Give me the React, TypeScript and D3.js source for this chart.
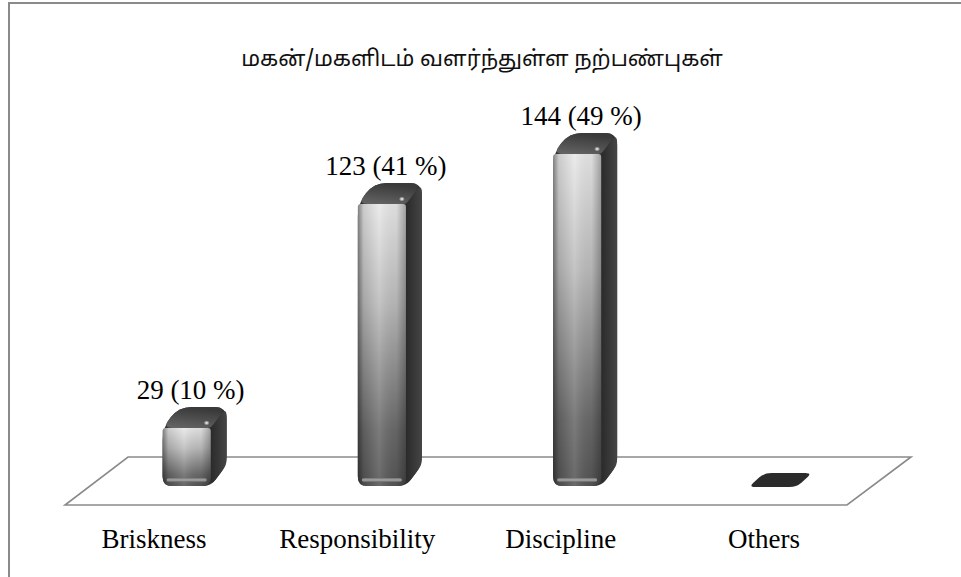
import React from "react";
import * as d3 from "d3";

const categories = ["Briskness", "Responsibility", "Discipline", "Others"];
const counts = [29, 123, 144, 0];
const percents = [10, 41, 49, 0];
const title = "மகன்/மகளிடம் வளர்ந்துள்ள நற்பண்புகள்";

const W = 961;
const H = 577;

type P = [number, number];

function roundedPolygon(pts: P[], radii: number[]): string {
  const n = pts.length;
  let d = "";
  for (let i = 0; i < n; i++) {
    const prev = pts[(i - 1 + n) % n];
    const cur = pts[i];
    const next = pts[(i + 1) % n];
    const r = radii[i];
    const v1x = prev[0] - cur[0], v1y = prev[1] - cur[1];
    const v2x = next[0] - cur[0], v2y = next[1] - cur[1];
    const l1 = Math.hypot(v1x, v1y) || 1;
    const l2 = Math.hypot(v2x, v2y) || 1;
    const r1 = Math.min(r, l1 / 2), r2 = Math.min(r, l2 / 2);
    const a: P = [cur[0] + (v1x / l1) * r1, cur[1] + (v1y / l1) * r1];
    const b: P = [cur[0] + (v2x / l2) * r2, cur[1] + (v2y / l2) * r2];
    d += (i === 0 ? "M" : "L") + a[0] + "," + a[1];
    d += "Q" + cur[0] + "," + cur[1] + " " + b[0] + "," + b[1];
  }
  return d + "Z";
}

export default function App() {
  const xScale = d3
    .scaleBand<string>()
    .domain(categories)
    .range([97, 878])
    .paddingInner(0.672)
    .paddingOuter(0.336);
  const yScale = d3.scaleLinear().domain([0, 144]).range([476, 133]);
  const labelScale = d3.scalePoint<string>().domain(categories).range([154, 764]);

  const w = xScale.bandwidth();
  const dx = 16;
  const dy = 21;
  const yb = yScale(0) + 10;

  const floorTop = yScale(0) - 19;
  const floorBot = yScale(0) + 29;
  const floor: P[] = [
    [128, floorTop],
    [911, floorTop],
    [847, floorBot],
    [65, floorBot],
  ];

  const serif = "'Liberation Serif', 'Times New Roman', Times, serif";

  return (
    <svg
      width={W}
      height={H}
      style={{ position: "absolute", left: 0, top: 0, background: "#fff" }}
    >
      <defs>
        <linearGradient id="frontV" x1="0" y1="0" x2="0" y2="1">
          <stop offset="0" stopColor="#e8e8e8" />
          <stop offset="0.35" stopColor="#bcbcbc" />
          <stop offset="0.8" stopColor="#6a6a6a" />
          <stop offset="1" stopColor="#555" />
        </linearGradient>
        <linearGradient id="frontH" x1="0" y1="0" x2="1" y2="0">
          <stop offset="0" stopColor="#000" stopOpacity="0.45" />
          <stop offset="0.12" stopColor="#000" stopOpacity="0.12" />
          <stop offset="0.45" stopColor="#fff" stopOpacity="0.12" />
          <stop offset="0.8" stopColor="#000" stopOpacity="0.05" />
          <stop offset="1" stopColor="#000" stopOpacity="0.3" />
        </linearGradient>
        <linearGradient id="topG" x1="0" y1="1" x2="0.3" y2="0">
          <stop offset="0" stopColor="#666" />
          <stop offset="1" stopColor="#3a3a3a" />
        </linearGradient>
        <linearGradient id="sideG" x1="0" y1="0" x2="1" y2="0">
          <stop offset="0" stopColor="#2a2a2a" />
          <stop offset="1" stopColor="#454545" />
        </linearGradient>
        <linearGradient id="bottomG" x1="0" y1="0" x2="0" y2="1">
          <stop offset="0" stopColor="#777" />
          <stop offset="0.5" stopColor="#bbb" />
          <stop offset="1" stopColor="#666" />
        </linearGradient>
        <radialGradient id="spec">
          <stop offset="0" stopColor="#fff" stopOpacity="1" />
          <stop offset="1" stopColor="#fff" stopOpacity="0" />
        </radialGradient>
      </defs>

      {/* frame */}
      <rect x={9} y={3} width={1000} height={700} fill="none" stroke="#8a8a8a" strokeWidth={2} />

      {/* title */}
      <text
        x={482}
        y={66}
        textAnchor="middle"
        fontSize={22}
        fontFamily="'Noto Sans Tamil', 'Latha', 'Lohit Tamil', 'FreeSans', 'Noto Sans', sans-serif"
        fill="#111"
      >
        {title}
      </text>

      {/* floor */}
      <path
        d={"M" + floor.map((p) => p.join(",")).join("L") + "Z"}
        fill="#fff"
        stroke="#8a8a8a"
        strokeWidth={1.6}
      />

      {/* bars */}
      {categories.map((c, i) => {
        const v = counts[i];
        const x0 = xScale(c) as number;
        if (v === 0) {
          const t = yScale(0) - 3;
          const h = 14;
          const cap: P[] = [
            [x0 + dx, t],
            [x0 + w, t],
            [x0 + w - dx, t + h],
            [x0, t + h],
          ];
          return (
            <path key={c} d={roundedPolygon(cap, [7, 7, 7, 7])} fill="#2b2b2b" />
          );
        }
        const yt = yScale(v);
        const xf = x0 + w - dx;
        const sil: P[] = [
          [x0 + dx, yt],
          [x0 + w, yt],
          [x0 + w, yb - dy],
          [xf, yb],
          [x0, yb],
          [x0, yt + dy],
        ];
        const front: P[] = [
          [x0, yt + dy],
          [xf, yt + dy],
          [xf, yb],
          [x0, yb],
        ];
        const top: P[] = [
          [x0, yt + dy],
          [xf, yt + dy],
          [x0 + w, yt],
          [x0 + dx, yt],
        ];
        const side: P[] = [
          [xf, yt + dy],
          [x0 + w, yt],
          [x0 + w, yb - dy],
          [xf, yb],
        ];
        return (
          <g key={c}>
            <path d={roundedPolygon(sil, [13, 12, 10, 8, 10, 12])} fill="#333" />
            <path d={roundedPolygon(side, [2, 10, 6, 8])} fill="url(#sideG)" />
            <path d={roundedPolygon(front, [3, 3, 9, 9])} fill="url(#frontV)" />
            <path d={roundedPolygon(front, [3, 3, 9, 9])} fill="url(#frontH)" />
            <rect
              x={x0 + 4}
              y={yb - 8}
              width={w - dx - 8}
              height={4}
              rx={2}
              fill="url(#bottomG)"
              opacity={0.8}
            />
            <path d={roundedPolygon(top, [10, 3, 12, 13])} fill="url(#topG)" />
            <ellipse cx={xf - 4} cy={yt + dy - 5} rx={3} ry={2.5} fill="url(#spec)" />
            <text
              x={x0 + w / 2 - 4}
              y={yt - 8}
              textAnchor="middle"
              fontSize={27}
              fontFamily={serif}
              fill="#000"
            >
              {`${v} (${percents[i]} %)`}
            </text>
          </g>
        );
      })}

      {/* category labels */}
      {categories.map((c) => (
        <text
          key={c}
          x={labelScale(c)}
          y={548}
          textAnchor="middle"
          fontSize={27}
          fontFamily={serif}
          fill="#000"
        >
          {c}
        </text>
      ))}
    </svg>
  );
}
